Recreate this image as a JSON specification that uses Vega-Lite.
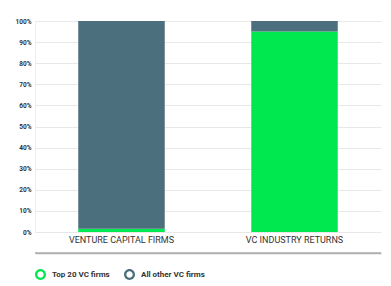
{
  "$schema": "https://vega.github.io/schema/vega-lite/v6.json",
  "autosize": "none",
  "width": 346,
  "height": 211,
  "padding": {"left": 35, "top": 21, "right": 10, "bottom": 54},
  "background": "white",
  "config": {"view": {"stroke": null}},
  "resolve": {"scale": {"y": "independent"}},
  "layer": [
    {
      "data": {
        "values": [
          {"category": "VENTURE CAPITAL FIRMS", "group": "Top 20 VC firms", "rank": 1, "value": 0.015},
          {"category": "VENTURE CAPITAL FIRMS", "group": "All other VC firms", "rank": 2, "value": 0.985},
          {"category": "VC INDUSTRY RETURNS", "group": "Top 20 VC firms", "rank": 1, "value": 0.95},
          {"category": "VC INDUSTRY RETURNS", "group": "All other VC firms", "rank": 2, "value": 0.05}
        ]
      },
      "mark": {"type": "bar"},
      "encoding": {
        "x": {
          "field": "category",
          "type": "nominal",
          "sort": ["VENTURE CAPITAL FIRMS", "VC INDUSTRY RETURNS"],
          "scale": {"paddingInner": 0.5, "paddingOuter": 0.25},
          "axis": {
            "title": null,
            "labelAngle": 0,
            "ticks": false,
            "domain": true,
            "domainColor": "#b0b0b0",
            "domainWidth": 1.3,
            "offset": 21,
            "labelPadding": -18,
            "labelFont": "Roboto",
            "labelFontSize": 9,
            "labelColor": "#333333"
          }
        },
        "y": {
          "field": "value",
          "type": "quantitative",
          "stack": "zero",
          "scale": {"domain": [0, 1]},
          "axis": {
            "title": null,
            "format": ".0%",
            "values": [0, 0.1, 0.2, 0.3, 0.4, 0.5, 0.6, 0.7, 0.8, 0.9, 1],
            "ticks": false,
            "domain": true,
            "domainColor": "#eeeeee",
            "gridColor": "#e8e8e8",
            "labelPadding": 4,
            "labelFont": "Roboto",
            "labelFontSize": 6.5,
            "labelFontWeight": "bold",
            "labelColor": "#333333"
          }
        },
        "color": {
          "field": "group",
          "type": "nominal",
          "scale": {"domain": ["Top 20 VC firms", "All other VC firms"], "range": ["#00E84F", "#4B6F7C"]},
          "legend": {
            "title": null,
            "orient": "bottom",
            "offset": 16,
            "direction": "horizontal",
            "symbolType": "M -1 0 A 1 1 0 1 0 1 0 A 1 1 0 1 0 -1 0 Z M -0.58 0 A 0.58 0.58 0 1 1 0.58 0 A 0.58 0.58 0 1 1 -0.58 0 Z",
            "symbolSize": 120,
            "symbolStrokeWidth": 0,
            "labelFont": "Roboto",
            "labelFontSize": 8,
            "labelFontWeight": "bold",
            "labelColor": "#333333",
            "labelOffset": 6,
            "columnPadding": 14
          }
        },
        "order": {"field": "rank", "type": "quantitative"}
      }
    },
    {
      "data": {"values": [{"base": 0}]},
      "mark": {"type": "rule", "color": "#b0b0b0", "strokeWidth": 1.3, "clip": false},
      "encoding": {
        "y": {
          "field": "base",
          "type": "quantitative",
          "scale": {"domain": [0.0905, 1], "zero": false, "clamp": false, "nice": false},
          "axis": null
        }
      }
    }
  ]
}
